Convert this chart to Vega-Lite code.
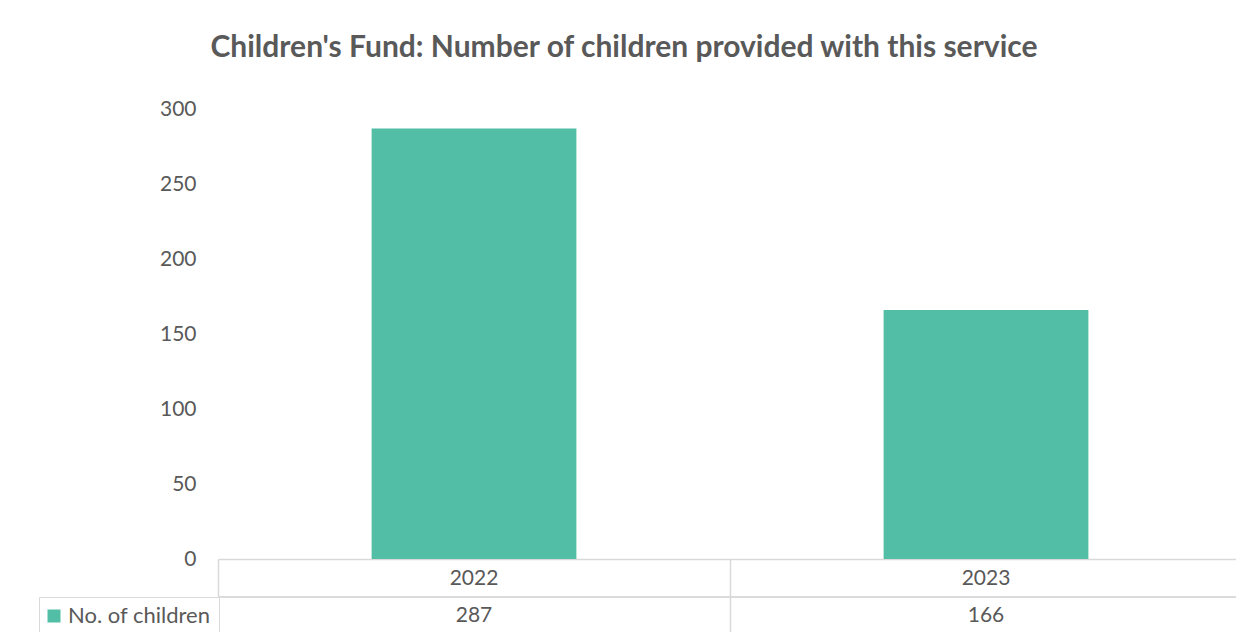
{
  "$schema": "https://vega.github.io/schema/vega-lite/v6.json",
  "autosize": {"type": "none"},
  "padding": {"left": 218, "top": 109, "right": 0, "bottom": 73},
  "width": 1018,
  "height": 450,
  "background": "white",
  "config": {"view": {"stroke": null}, "font": "Lato"},
  "title": {
    "text": "Children's Fund: Number of children provided with this service",
    "fontSize": 30,
    "fontWeight": "bold",
    "color": "#595959",
    "font": "Lato",
    "anchor": "middle",
    "dx": -103,
    "baseline": "alphabetic",
    "offset": 11
  },
  "data": {
    "values": [
      {"year": "2022", "series": "No. of children", "children": 287},
      {"year": "2023", "series": "No. of children", "children": 166}
    ]
  },
  "layer": [
    {
      "mark": {"type": "bar", "width": {"band": 0.4}},
      "encoding": {
        "x": {
          "field": "year",
          "type": "nominal",
          "scale": {"range": [0, 1024], "paddingInner": 0, "paddingOuter": 0},
          "axis": {
            "title": null,
            "labelAngle": 0,
            "bandPosition": 0,
            "tickSize": 80,
            "tickColor": "#D9D9D9",
            "tickWidth": 1.5,
            "domainColor": "#D9D9D9",
            "domainWidth": 1.5,
            "labelPadding": -61,
            "labelBaseline": "middle",
            "labelFontSize": 21,
            "labelColor": "#595959",
            "labelFont": "Lato",
            "grid": false
          }
        },
        "y": {
          "field": "children",
          "type": "quantitative",
          "scale": {"domain": [0, 300]},
          "axis": {
            "title": null,
            "values": [0, 50, 100, 150, 200, 250, 300],
            "domain": false,
            "ticks": false,
            "grid": false,
            "labelPadding": 22,
            "labelFontSize": 21,
            "labelColor": "#595959",
            "labelFont": "Lato"
          }
        },
        "color": {
          "field": "series",
          "type": "nominal",
          "scale": {"range": ["#52BEA5"]},
          "legend": {
            "orient": "none",
            "legendX": -179,
            "legendY": 488,
            "title": null,
            "symbolType": "square",
            "symbolSize": 169,
            "symbolStrokeWidth": 0,
            "symbolOffset": -4,
            "labelFontSize": 22,
            "labelColor": "#595959",
            "labelFont": "Lato",
            "labelOffset": 3,
            "strokeColor": "#D9D9D9",
            "padding": 8,
            "fillColor": "white"
          }
        }
      }
    },
    {
      "mark": {"type": "text", "dy": 57, "fontSize": 21, "color": "#595959", "font": "Lato"},
      "encoding": {
        "x": {"field": "year", "type": "nominal"},
        "y": {"datum": 0},
        "text": {"field": "children"}
      }
    },
    {
      "mark": {"type": "rule", "yOffset": 38, "color": "#D9D9D9", "strokeWidth": 1.5},
      "encoding": {"y": {"datum": 0}}
    }
  ]
}
